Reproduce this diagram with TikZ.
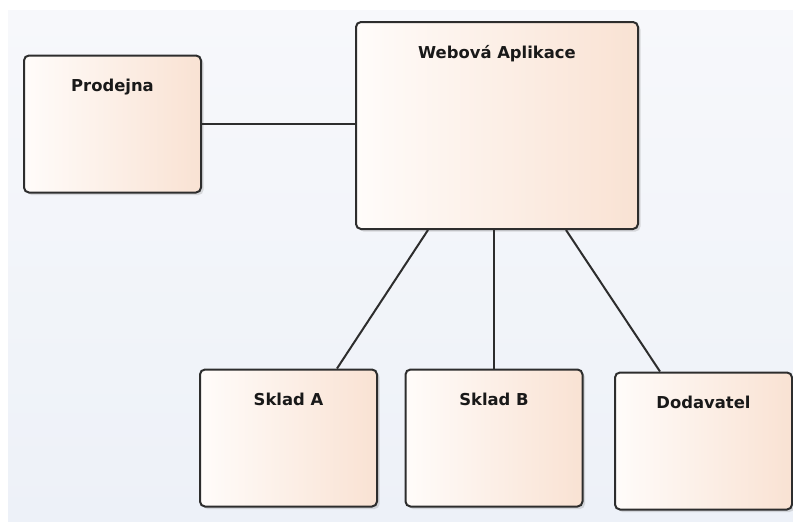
\documentclass[tikz,border=0pt]{standalone}
\usepackage{fontspec}
\setmainfont{DejaVu Sans}
\usepackage{tikz}
\usetikzlibrary{shadows}
\usetikzlibrary{positioning}
\definecolor{boxright}{RGB}{249,226,211}
\definecolor{boxleft}{RGB}{255,252,250}
\definecolor{bgtop}{RGB}{247,248,251}
\definecolor{bgbottom}{RGB}{237,241,248}
\definecolor{boxline}{RGB}{45,45,45}

\begin{document}
\begin{tikzpicture}
[x=1pt,y=-1pt,
unit/.style={rectangle,rounded corners=5pt,draw=boxline,line width=2pt,
  left color=boxleft,right color=boxright,
  drop shadow={shadow xshift=2.5pt,shadow yshift=-2.5pt,opacity=0.25},
  minimum width=177pt,minimum height=137pt,inner sep=0pt},
title/.style={anchor=north,yshift=-21pt,
  font=\bfseries\fontsize{16.4}{19}\selectfont,text=black!90},
link/.style={draw=boxline,line width=2pt}]
% background
\useasboundingbox (0,0) rectangle (793,522);
\shade[top color=bgtop,bottom color=bgbottom] (8,10) rectangle (793,522);
\node (Prodejna) at (112.5,124) [unit,label={[title]north:Prodejna}] {};
\node (WebovaAplikace) at (497,125.5) [unit,minimum width=282pt,minimum height=207pt,
  label={[title]north:Webová Aplikace}] {};
\node (SkladA) at (288.5,438) [unit,label={[title]north:Sklad A}] {};
\node (SkladB) at (494,438) [unit,label={[title]north:Sklad B}] {};
\node (Dodavatel) at (703.5,441) [unit,label={[title]north:Dodavatel}] {};
\path[link] (Prodejna.east) edge (Prodejna.east -| WebovaAplikace.west)
  ([xshift=-69pt]WebovaAplikace.south) edge ([xshift=48.5pt]SkladA.north)
  (SkladB.north |- WebovaAplikace.south) edge (SkladB.north)
  ([xshift=69pt]WebovaAplikace.south) edge ([xshift=-43.5pt]Dodavatel.north);
\end{tikzpicture}
\end{document}
